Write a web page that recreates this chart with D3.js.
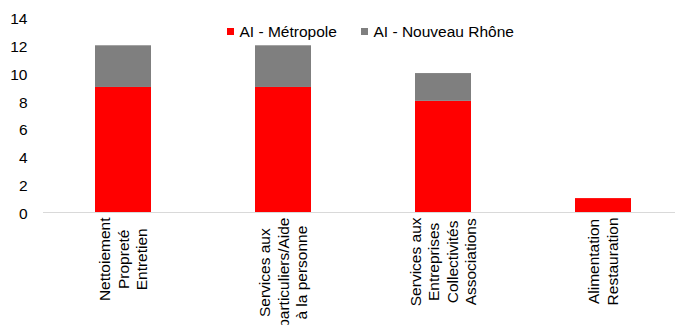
<!DOCTYPE html>
<html>
<head>
<meta charset="utf-8">
<script src="https://cdn.jsdelivr.net/npm/d3@7"></script>
<style>
  html, body { margin: 0; padding: 0; background: #fff; }
  svg { display: block; font-family: Arial, "Liberation Sans", sans-serif; }
</style>
</head>
<body>
<svg id="chart" width="675" height="325"></svg>
<script>
const categories = [
  ["Nettoiement", "Propreté", "Entretien"],
  ["Services aux", "particuliers/Aide", "à la personne"],
  ["Services aux", "Entreprises", "Collectivités", "Associations"],
  ["Alimentation", "Restauration"]
];
const seriesNames = ["AI - Métropole", "AI - Nouveau Rhône"];
const metropole = [9, 9, 8, 1];
const nouveauRhone = [3, 3, 2, 0];
const yTicks = [0, 2, 4, 6, 8, 10, 12, 14];
const colors = ["#FF0000", "#7F7F7F"];

const FS = "15.5px";
const svg = d3.select("#chart");
const keys = categories.map((c, i) => "c" + i);
const x = d3.scaleBand().domain(keys).range([43, 683]).paddingInner(0.65).paddingOuter(0.325);
const y = d3.scaleLinear().domain([0, 14]).range([212, 17.5]);

const rows = keys.map((k, i) => ({ key: k, m: metropole[i], n: nouveauRhone[i] }));
const stack = d3.stack().keys(["m", "n"])(rows);

svg.append("g").selectAll("g").data(stack).join("g")
  .attr("fill", (d, i) => colors[i])
  .selectAll("rect").data(d => d.filter(p => p[1] - p[0] > 0)).join("rect")
  .attr("x", d => x(d.data.key))
  .attr("width", x.bandwidth())
  .attr("y", d => y(d[1]))
  .attr("height", d => y(d[0]) - y(d[1]));

// x axis line
svg.append("line")
  .attr("x1", 43).attr("x2", 675)
  .attr("y1", y(0) + 0.5).attr("y2", y(0) + 0.5)
  .attr("stroke", "#D9D9D9").attr("stroke-width", 1);

// y axis labels (no line/ticks)
const yAxis = d3.axisLeft(y).tickValues(yTicks).tickSize(0).tickPadding(0);
const gy = svg.append("g").attr("transform", "translate(27.5,0)").call(yAxis);
gy.select(".domain").remove();
gy.selectAll("text")
  .attr("font-size", FS)
  .attr("font-family", "Arial, 'Liberation Sans', sans-serif")
  .attr("fill", "#000")
  .attr("dy", "0.4em");

// category labels, rotated -90
const labelTop = 217.5;
const lineH = 18.5;
categories.forEach((lines, i) => {
  const cx = x(keys[i]) + x.bandwidth() / 2;
  const g = svg.append("g");
  const texts = lines.map(l => g.append("text")
    .attr("font-size", FS)
    .attr("fill", "#000")
    .attr("text-anchor", "middle")
    .text(l));
  const maxW = d3.max(texts, t => t.node().getComputedTextLength());
  const cy = labelTop + maxW / 2;
  const n = lines.length;
  texts.forEach((t, j) => {
    const lx = cx + (j - (n - 1) / 2) * lineH;
    t.attr("transform", `translate(${lx + 5.5},${cy}) rotate(-90)`);
  });
});

// legend
const legend = [
  { name: seriesNames[0], color: colors[0], x: 227 },
  { name: seriesNames[1], color: colors[1], x: 361 }
];
const lg = svg.append("g");
legend.forEach(l => {
  lg.append("rect").attr("x", l.x).attr("y", 28).attr("width", 7).attr("height", 7).attr("fill", l.color);
  lg.append("text").attr("x", l.x + 12.5).attr("y", 37).attr("font-size", FS).attr("fill", "#000").text(l.name);
});
</script>
</body>
</html>
